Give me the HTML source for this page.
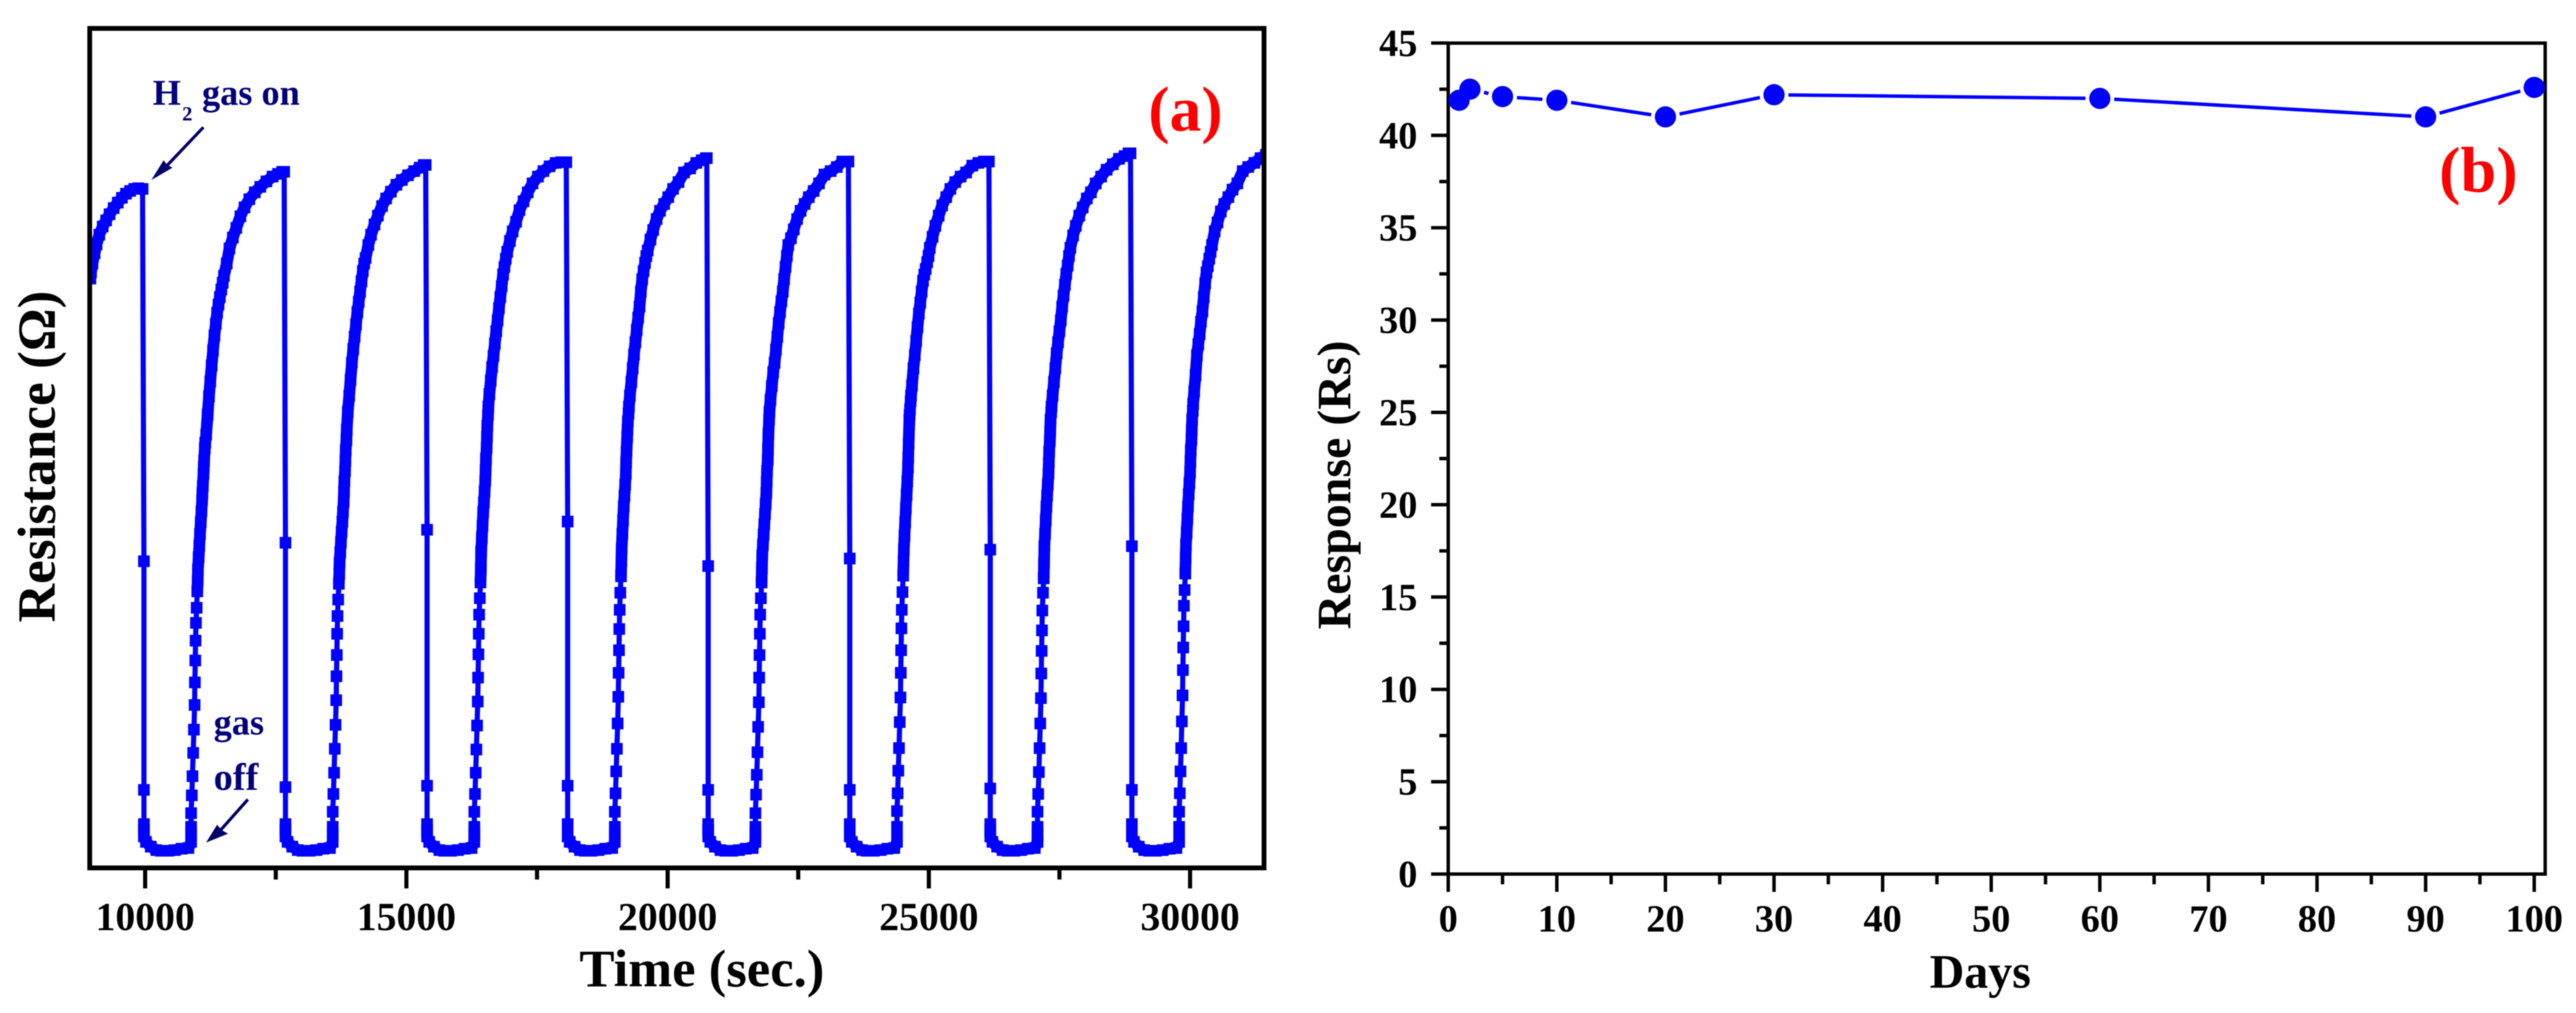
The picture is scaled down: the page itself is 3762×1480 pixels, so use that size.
<!DOCTYPE html>
<html lang="en">
<head>
<meta charset="utf-8">
<title>H2 gas sensor resistance cycling and response stability</title>
<style>
html,body{margin:0;padding:0;background:#fff;}
svg{display:block;filter:blur(0.8px);}
text{font-family:"Liberation Serif",serif;font-weight:bold;}
</style>
</head>
<body>
<svg id="figure" xmlns="http://www.w3.org/2000/svg" width="3762" height="1480" viewBox="0 0 3762 1480">
  <rect x="0" y="0" width="3762" height="1480" fill="#fff"/>
  <defs>
    <clipPath id="clip-a"><rect x="131" y="42" width="1715" height="1226"/></clipPath>
  </defs>
  <g id="panel-a">
    <g id="series-a" clip-path="url(#clip-a)"></g>
    <rect x="131" y="41.5" width="1715" height="1226.5" fill="none" stroke="#000" stroke-width="7"/>
    <g id="axis-a"></g>
    <text x="1025" y="1441" font-size="77" text-anchor="middle" fill="#000">Time (sec.)</text>
    <text x="80" y="667" font-size="78" text-anchor="middle" fill="#000" transform="rotate(-90 80 667)">Resistance (Ω)</text>
    <text fill="#00007a" font-size="53"><tspan x="223" y="153">H</tspan><tspan x="266" y="176" font-size="30">2</tspan><tspan x="295" y="153">gas on</tspan></text>
    <line x1="297" y1="186" x2="240" y2="246" stroke="#00006a" stroke-width="4.5"/>
    <polygon points="221,263 239,234 244,241 252,245" fill="#00006a"/>
    <text x="312" y="1073" font-size="53" fill="#00007a">gas</text>
    <text x="312" y="1154" font-size="56" fill="#00007a">off</text>
    <line x1="362" y1="1168" x2="322" y2="1213" stroke="#00006a" stroke-width="4.5"/>
    <polygon points="301,1231 317,1205 324,1213 333,1218" fill="#00006a"/>
    <text x="1677" y="191" font-size="93" fill="#ff0000">(a)</text>
  </g>
  <g id="panel-b">
    <g id="axis-b"></g>
    <rect x="2115" y="63" width="1602" height="1214" fill="none" stroke="#000" stroke-width="5"/>
    <g id="series-b"></g>
    <text x="2892" y="1443" font-size="70" text-anchor="middle" fill="#000">Days</text>
    <text x="1972" y="708.5" font-size="70" text-anchor="middle" fill="#000" transform="rotate(-90 1972 708.5)">Response (Rs)</text>
    <text x="3562" y="280" font-size="94" fill="#ff0000">(b)</text>
  </g>
</svg>
<script>
/* ---------- Panel (a) data: time in seconds, resistance in arbitrary units ---------- */
const xMajorTicksA = [10000, 15000, 20000, 25000, 30000];
const xMinorTicksA = [12500, 17500, 22500, 27500];

const initialTimes = [8952, 8965, 8991, 9031, 9070, 9122, 9188, 9253, 9319, 9397, 9476, 9555, 9633, 9712, 9790, 9869, 9921];
const initialResistance = [86.1, 87.0, 88.3, 89.8, 91.1, 92.5, 93.7, 94.6, 95.5, 96.4, 97.2, 97.9, 98.5, 98.9, 99.2, 99.3, 99.2];

const gasOnTimes = [9950, 12660, 15370, 18060, 20750, 23460, 26150, 28860];
const dropMidResistance = [44.8, 47.5, 49.4, 50.6, 44.1, 45.2, 46.5, 47.0];
const dropLowResistance = [11.4, 11.8, 12.0, 12.0, 11.4, 11.4, 11.6, 11.4];

const decayElapsed = [26, 26, 26, 66, 157, 262, 354, 485, 616, 747, 878];
const decayResistance = [6.4, 5.6, 4.6, 3.8, 3.1, 2.6, 2.5, 2.5, 2.6, 2.8, 2.9];

const riseElapsed = [930, 930, 930, 930, 943, 956, 969, 983, 996, 1002, 1009, 1015, 1022, 1035, 1048, 1055, 1061, 1074, 1087, 1100, 1114, 1127, 1140, 1146, 1153, 1166, 1172, 1179, 1192, 1199, 1218, 1245, 1271, 1297, 1323, 1349, 1376, 1402, 1428, 1454, 1480, 1507, 1533, 1559, 1611, 1664, 1729, 1795, 1873, 1952, 2044, 2148, 2253, 2371, 2489, 2594, 2672];

const riseCycle1 = [3.8, 4.8, 6.0, 8.0, 10.6, 13.4, 16.8, 20.2, 23.8, 27.1, 30.3, 33.2, 35.8, 38.0, 40.4, 42.0, 43.6, 45.4, 47.1, 48.8, 50.5, 52.1, 53.8, 54.8, 55.8, 57.6, 58.6, 59.5, 61.3, 62.1, 63.3, 66.2, 68.9, 71.1, 73.4, 75.6, 77.8, 79.5, 81.1, 82.3, 83.4, 84.5, 85.5, 86.5, 88.3, 90.5, 92.1, 93.5, 95.2, 96.5, 97.7, 98.7, 99.5, 100.3, 101.0, 101.4, 101.7];
const riseCycle2 = [3.8, 4.8, 6.0, 8.2, 10.8, 13.9, 17.4, 20.9, 24.5, 28.0, 31.1, 34.2, 36.8, 39.2, 41.5, 43.0, 44.6, 46.1, 47.6, 49.1, 50.6, 52.0, 53.5, 55.0, 56.5, 58.0, 59.5, 61.0, 62.5, 64.0, 66.6, 69.0, 71.3, 73.8, 75.8, 77.6, 79.4, 81.2, 82.7, 84.2, 85.7, 87.2, 88.3, 89.1, 91.0, 92.5, 94.0, 95.3, 96.7, 97.8, 98.8, 99.8, 100.5, 101.2, 101.8, 102.3, 102.7];
const riseCycle3 = [3.8, 4.8, 6.0, 8.2, 10.8, 13.9, 17.3, 20.8, 24.3, 27.8, 31.2, 34.2, 37.0, 39.4, 41.7, 43.6, 46.2, 48.2, 50.0, 52.0, 53.4, 55.0, 56.6, 58.2, 59.8, 61.4, 63.0, 64.6, 66.2, 67.4, 69.2, 71.2, 73.2, 74.8, 76.6, 78.4, 80.0, 81.8, 83.4, 85.0, 86.7, 87.8, 89.0, 90.0, 91.6, 93.0, 94.4, 96.1, 97.4, 98.7, 100.0, 101.0, 101.8, 102.5, 103.0, 103.1, 103.1];
const riseCycle4 = [3.8, 4.8, 6.0, 8.2, 10.9, 14.1, 17.4, 21.1, 25.0, 28.5, 31.8, 34.9, 37.7, 40.2, 42.6, 44.8, 46.6, 48.8, 50.8, 52.8, 54.4, 56.0, 57.6, 59.2, 60.8, 63.0, 64.0, 65.2, 66.4, 67.4, 69.0, 71.0, 73.0, 75.0, 76.8, 78.6, 80.4, 82.0, 84.2, 86.0, 87.2, 88.4, 89.4, 90.2, 91.8, 93.2, 94.8, 96.0, 97.0, 98.0, 99.2, 100.2, 101.6, 102.2, 103.0, 103.4, 103.7];
const riseCycle5 = [3.8, 4.8, 6.0, 8.0, 10.7, 13.6, 16.9, 20.6, 24.2, 27.8, 31.1, 34.2, 37.0, 39.4, 41.7, 43.8, 45.7, 47.2, 48.7, 50.2, 51.7, 53.2, 54.8, 56.4, 58.0, 59.6, 61.2, 63.5, 65.5, 66.6, 68.4, 70.4, 72.4, 73.8, 75.7, 77.6, 79.6, 81.2, 82.8, 84.2, 86.0, 87.8, 89.4, 91.0, 92.0, 93.3, 94.8, 96.0, 97.0, 98.0, 98.9, 100.0, 101.3, 101.8, 102.4, 103.2, 103.2];
const riseCycle6 = [3.8, 4.8, 6.0, 8.3, 10.9, 14.2, 17.5, 21.3, 24.9, 28.5, 31.8, 35.0, 37.7, 40.3, 42.7, 44.8, 46.5, 48.5, 50.5, 52.5, 54.5, 56.5, 58.5, 60.0, 62.0, 65.5, 66.2, 67.0, 68.2, 69.0, 70.5, 73.0, 74.9, 77.0, 79.0, 81.0, 82.6, 84.2, 85.8, 86.7, 87.5, 88.5, 89.4, 90.6, 92.2, 93.8, 95.3, 96.8, 98.0, 99.2, 100.2, 101.0, 101.6, 102.6, 103.0, 103.2, 103.2];
const riseCycle7 = [3.8, 4.8, 6.0, 8.2, 10.8, 14.0, 17.5, 21.1, 24.8, 28.4, 31.7, 34.7, 37.6, 40.2, 42.3, 44.5, 47.0, 48.8, 50.8, 52.8, 54.4, 56.0, 57.6, 59.2, 60.8, 62.4, 63.8, 65.5, 66.6, 67.4, 69.0, 71.0, 73.0, 75.2, 76.8, 78.4, 80.0, 82.0, 83.6, 85.2, 86.8, 88.0, 89.4, 90.6, 92.4, 93.8, 95.3, 96.5, 97.8, 98.7, 100.0, 101.0, 102.0, 102.8, 103.6, 104.0, 104.4];
const riseCycle8 = [3.8, 4.8, 6.0, 8.2, 10.9, 14.1, 17.5, 21.4, 25.2, 28.9, 32.2, 35.3, 38.3, 40.6, 43.0, 45.3, 47.2, 49.0, 51.0, 52.8, 54.6, 56.2, 57.8, 59.4, 61.0, 62.6, 64.0, 65.5, 66.8, 67.8, 69.6, 72.0, 74.9, 76.5, 78.0, 79.8, 81.3, 83.4, 85.4, 87.0, 87.9, 89.0, 90.0, 91.0, 93.0, 94.3, 95.9, 97.0, 98.0, 99.1, 100.0, 101.8, 102.4, 103.0, 103.7, 104.2, 104.6];
const riseCycles = [riseCycle1, riseCycle2, riseCycle3, riseCycle4, riseCycle5, riseCycle6, riseCycle7, riseCycle8];

/* ---------- Panel (b) data ---------- */
const days = [1, 2, 5, 10, 20, 30, 60, 90, 100];
const response = [41.9, 42.5, 42.1, 41.9, 41.0, 42.2, 42.0, 41.0, 42.6];
const xMajorTicksB = [0, 10, 20, 30, 40, 50, 60, 70, 80, 90, 100];
const xMinorTicksB = [5, 15, 25, 35, 45, 55, 65, 75, 85, 95];
const yMajorTicksB = [0, 5, 10, 15, 20, 25, 30, 35, 40, 45];
const yMinorTicksB = [2.5, 7.5, 12.5, 17.5, 22.5, 27.5, 32.5, 37.5, 42.5];

/* ---------- Scales ---------- */
const NS = 'http://www.w3.org/2000/svg';
const markerSize = 17;
function xA(t) { return 212 + (t - 10000) * 0.0763; }
function yA(r) { return 1268 - r * 10; }
function xB(d) { return 2115 + d * 15.86; }
function yB(v) { return 1277 - v * 26.98; }

function make(tag, parent) {
  const el = document.createElementNS(NS, tag);
  parent.appendChild(el);
  return el;
}
function polyPoints(list) {
  return list.map(function (p) { return xA(p[0]).toFixed(1) + ',' + yA(p[1]).toFixed(1); }).join(' ');
}

/* ---------- Panel (a) series ---------- */
const seriesA = document.getElementById('series-a');
const axisA = document.getElementById('axis-a');
const pts = [];
const mergedRuns = [];
let run = [];
initialTimes.forEach(function (t, i) {
  pts.push([t, initialResistance[i]]);
  run.push([t, initialResistance[i]]);
});
gasOnTimes.forEach(function (t0, c) {
  const prev = pts[pts.length - 1];
  pts.push([t0, prev[1]]);
  run.push([t0, prev[1]]);
  mergedRuns.push(run);
  pts.push([t0 + 26, dropMidResistance[c]]);
  pts.push([t0 + 26, dropLowResistance[c]]);
  run = [];
  decayElapsed.forEach(function (e, i) {
    pts.push([t0 + e, decayResistance[i]]);
    run.push([t0 + e, decayResistance[i]]);
  });
  riseElapsed.forEach(function (e, i) {
    pts.push([t0 + e, riseCycles[c][i]]);
    if (i < 3) { run.push([t0 + e, riseCycles[c][i]]); }
    if (i === 2) { mergedRuns.push(run); run = []; }
    if (i >= 14) { run.push([t0 + e, riseCycles[c][i]]); }
  });
});
mergedRuns.push(run);

const traceA = make('polyline', seriesA);


traceA.setAttribute('fill', 'none');
traceA.setAttribute('stroke', '#0000ff');
traceA.setAttribute('stroke-width', '7.5');
traceA.setAttribute('points', polyPoints(pts));

mergedRuns.forEach(function (r) {
  const band = make('polyline', seriesA);
  
  
  band.setAttribute('fill', 'none');
  band.setAttribute('stroke', '#0000ff');
  band.setAttribute('stroke-width', markerSize);
  band.setAttribute('stroke-linejoin', 'round');
  band.setAttribute('points', polyPoints(r));
});

pts.forEach(function (p) {
  const m = make('rect', seriesA);
  
  
  m.setAttribute('x', (xA(p[0]) - markerSize / 2).toFixed(1));
  m.setAttribute('y', (yA(p[1]) - markerSize / 2).toFixed(1));
  m.setAttribute('width', markerSize);
  m.setAttribute('height', markerSize);
  m.setAttribute('fill', '#0000ff');
});

xMajorTicksA.forEach(function (t) {
  const l = make('line', axisA);
  
  
  l.setAttribute('x1', xA(t));
  l.setAttribute('x2', xA(t));
  l.setAttribute('y1', 1268);
  l.setAttribute('y2', 1298);
  l.setAttribute('stroke', '#000');
  l.setAttribute('stroke-width', '6');
  const s = make('text', axisA);
  
  
  s.setAttribute('x', xA(t));
  s.setAttribute('y', 1359);
  s.setAttribute('font-size', '58');
  s.setAttribute('text-anchor', 'middle');
  s.setAttribute('fill', '#000');
  s.textContent = String(t);
});
xMinorTicksA.forEach(function (t) {
  const l = make('line', axisA);
  
  
  l.setAttribute('x1', xA(t));
  l.setAttribute('x2', xA(t));
  l.setAttribute('y1', 1268);
  l.setAttribute('y2', 1285);
  l.setAttribute('stroke', '#000');
  l.setAttribute('stroke-width', '6');
});

/* ---------- Panel (b) axes ---------- */
const axisB = document.getElementById('axis-b');
const seriesB = document.getElementById('series-b');

yMajorTicksB.forEach(function (v) {
  const l = make('line', axisB);
  
  
  l.setAttribute('x1', 2090);
  l.setAttribute('x2', 2115);
  l.setAttribute('y1', yB(v));
  l.setAttribute('y2', yB(v));
  l.setAttribute('stroke', '#000');
  l.setAttribute('stroke-width', '5');
  const s = make('text', axisB);
  
  
  s.setAttribute('x', 2070);
  s.setAttribute('y', yB(v) + 19);
  s.setAttribute('font-size', '56');
  s.setAttribute('text-anchor', 'end');
  s.setAttribute('fill', '#000');
  s.textContent = String(v);
});
yMinorTicksB.forEach(function (v) {
  const l = make('line', axisB);
  
  
  l.setAttribute('x1', 2102);
  l.setAttribute('x2', 2115);
  l.setAttribute('y1', yB(v));
  l.setAttribute('y2', yB(v));
  l.setAttribute('stroke', '#000');
  l.setAttribute('stroke-width', '5');
});
xMajorTicksB.forEach(function (d) {
  const l = make('line', axisB);
  
  
  l.setAttribute('x1', xB(d));
  l.setAttribute('x2', xB(d));
  l.setAttribute('y1', 1277);
  l.setAttribute('y2', 1303);
  l.setAttribute('stroke', '#000');
  l.setAttribute('stroke-width', '5');
  const s = make('text', axisB);
  
  
  s.setAttribute('x', xB(d));
  s.setAttribute('y', 1361);
  s.setAttribute('font-size', '56');
  s.setAttribute('text-anchor', 'middle');
  s.setAttribute('fill', '#000');
  s.textContent = String(d);
});
xMinorTicksB.forEach(function (d) {
  const l = make('line', axisB);
  
  
  l.setAttribute('x1', xB(d));
  l.setAttribute('x2', xB(d));
  l.setAttribute('y1', 1277);
  l.setAttribute('y2', 1292);
  l.setAttribute('stroke', '#000');
  l.setAttribute('stroke-width', '5');
});

/* ---------- Panel (b) series: line segments stop short of each symbol ---------- */
const symbolGap = 21;
days.forEach(function (d, i) {
  if (i === days.length - 1) { return; }
  const x1 = xB(d), y1 = yB(response[i]);
  const x2 = xB(days[i + 1]), y2 = yB(response[i + 1]);
  const len = Math.hypot(x2 - x1, y2 - y1);
  if (len <= symbolGap * 2) { return; }
  const ux = (x2 - x1) / len, uy = (y2 - y1) / len;
  const seg = make('line', seriesB);
  
  
  seg.setAttribute('x1', (x1 + ux * symbolGap).toFixed(1));
  seg.setAttribute('y1', (y1 + uy * symbolGap).toFixed(1));
  seg.setAttribute('x2', (x2 - ux * symbolGap).toFixed(1));
  seg.setAttribute('y2', (y2 - uy * symbolGap).toFixed(1));
  seg.setAttribute('stroke', '#0000ff');
  seg.setAttribute('stroke-width', '5');
});
days.forEach(function (d, i) {
  const c = make('circle', seriesB);
  
  
  c.setAttribute('cx', xB(d).toFixed(1));
  c.setAttribute('cy', yB(response[i]).toFixed(1));
  c.setAttribute('r', '15.5');
  c.setAttribute('fill', '#0000ff');
});
</script>
</body>
</html>
